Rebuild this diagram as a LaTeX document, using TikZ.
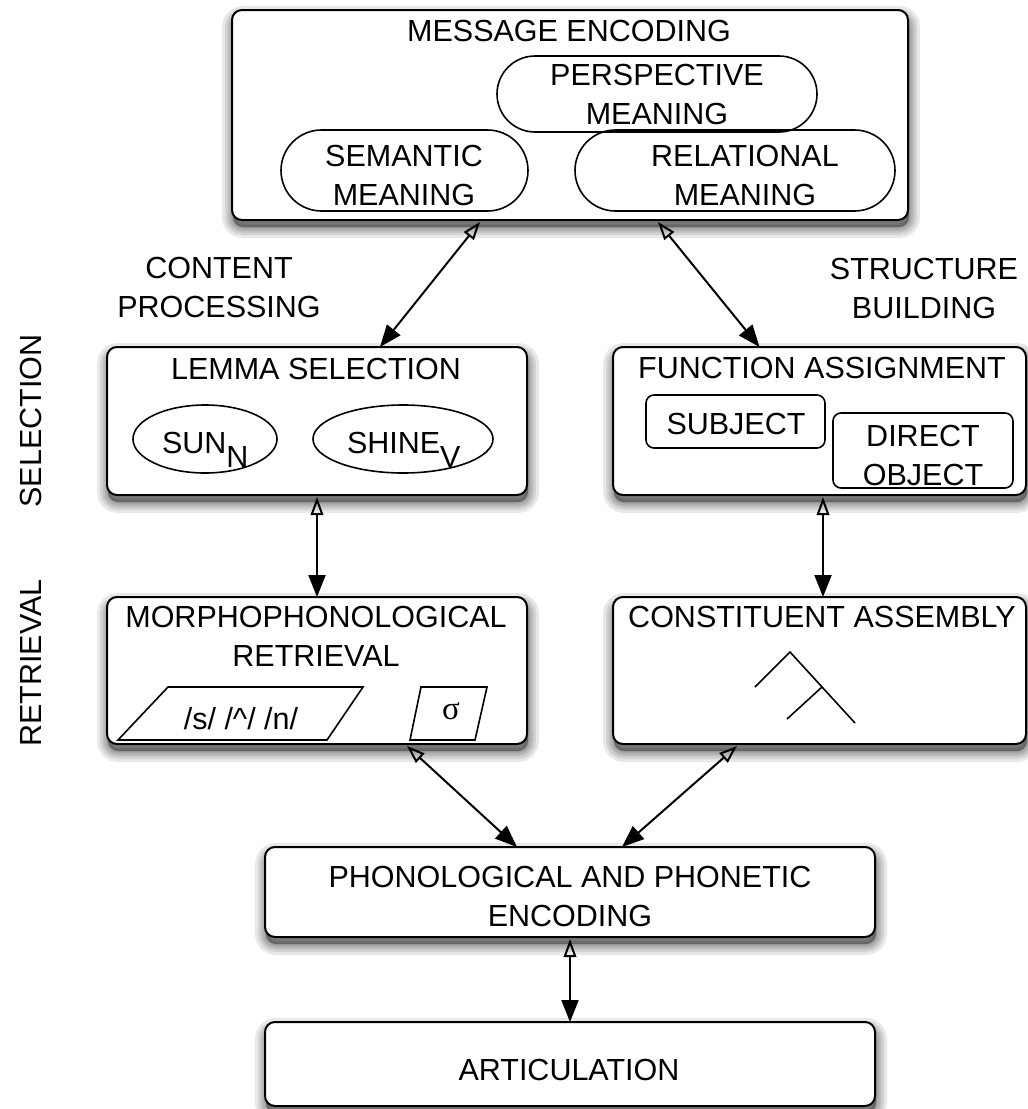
\documentclass[tikz,border=0pt]{standalone}
\usepackage{fontspec}
\setmainfont{Liberation Sans}
\newfontfamily\sigfont{Liberation Serif}
\usetikzlibrary{arrows.meta,shapes.misc,shapes.geometric}
\begin{document}
\begin{tikzpicture}[x=1pt,y=-1pt,
  every node/.style={font=\fontsize{30.5}{39}\selectfont, inner sep=0pt, outer sep=0pt, align=center},
  shadowlayer/.style={preaction={draw=black, fill=black, line width=#1, opacity=0.09,
      transform canvas={xshift=1pt,yshift=-7pt}}},
  box/.style={draw, line width=2pt, rounded corners=10pt, fill=white,
    shadowlayer=22pt, shadowlayer=16pt, shadowlayer=11pt, shadowlayer=7pt, shadowlayer=3pt},
  pill/.style={draw, line width=1.6pt, rounded rectangle},
  oval/.style={draw, line width=1.6pt, ellipse},
  tag/.style={draw, line width=1.6pt, rounded corners=8pt},
  thin/.style={line width=1.6pt},
  link/.style={line width=2pt, {Triangle[open,length=18pt,width=12.5pt]}-{Triangle[length=22pt,width=17pt]}}
]
\useasboundingbox (0,0) rectangle (1028,1109);

% main boxes
\node[box, minimum width=676pt, minimum height=210pt] (msg) at (570,115) {};
\node[box, minimum width=420pt, minimum height=148pt] (lemma) at (317,421) {};
\node[box, minimum width=413pt, minimum height=148pt] (func) at (819.5,421) {};
\node[box, minimum width=420pt, minimum height=147pt] (morph) at (317,670.5) {};
\node[box, minimum width=413pt, minimum height=147pt] (const) at (819.5,670.5) {};
\node[box, minimum width=610pt, minimum height=90pt] (phon) at (570,892) {};
\node[box, minimum width=610pt, minimum height=84pt] (artic) at (570,1064) {};

% message encoding
\node (msgt) at (569,31) {MESSAGE ENCODING};
\node[pill, minimum width=320pt, minimum height=76pt] (persp) at (657,94) {PERSPECTIVE\\MEANING};
\node[pill, minimum width=247pt, minimum height=81pt] (sem) at (404.5,170.5) {};
\node (semt) at (404,175.5) {SEMANTIC\\MEANING};
\node[pill, minimum width=320pt, minimum height=81pt] (rel) at (735,170.5) {};
\node (relt) at (745,175.5) {RELATIONAL\\MEANING};

% lemma selection
\node (lemmat) at (316,368.5) {LEMMA SELECTION};
\node[oval, minimum width=144pt, minimum height=68pt] (sunov) at (205,439) {};
\node[anchor=base west] (sun) at (162,453) {SUN\raisebox{-14pt}{N}};
\node[oval, minimum width=180pt, minimum height=68pt] (shineov) at (403,439) {};
\node[anchor=base west] (shine) at (347,453) {SHINE\raisebox{-14pt}{V}};

% function assignment
\node (funct) at (822,368) {FUNCTION ASSIGNMENT};
\node[tag, minimum width=179pt, minimum height=53pt] (subj) at (735.5,421.5) {};
\node (subjt) at (736,424) {SUBJECT};
\node[tag, minimum width=180pt, minimum height=75pt] (dobj) at (923,450.5) {};
\node (dobjt) at (923,455) {DIRECT\\OBJECT};

% morphophonological retrieval
\node (morpht) at (316,636.5) {MORPHOPHONOLOGICAL\\RETRIEVAL};
\draw[thin] (118,740) -- (168,687) -- (363,687) -- (327,740) -- cycle;
\node[anchor=base] (segs) at (241,729) {/s/ /\textasciicircum/ /n/};
\draw[thin] (421,687) -- (487,687) -- (475,740) -- (410,740) -- cycle;
\node[anchor=base] (sig) at (451,719) {\sigfont\fontsize{33}{33}\selectfont σ};

% constituent assembly
\node (constt) at (822,617) {CONSTITUENT ASSEMBLY};
\draw[thin] (755,687) -- (790,652) -- (855,723);
\draw[thin] (822,687) -- (787,719);

% phonological encoding, articulation
\node (phont) at (570,896.5) {PHONOLOGICAL AND PHONETIC\\ENCODING};
\node (artict) at (569,1070) {ARTICULATION};

% side labels
\node (cp) at (219,287.5) {CONTENT\\PROCESSING};
\node (sb) at (924,288) {STRUCTURE\\BUILDING};
\node[rotate=90] (sel) at (31,421) {SELECTION};
\node[rotate=90] (ret) at (31,663) {RETRIEVAL};

% connectors
\draw[link] ([xshift=-90pt,yshift=-2pt]msg.south) -- ([xshift=63pt]lemma.north);
\draw[link] ([xshift=88pt,yshift=-2pt]msg.south) -- ([xshift=-60pt]func.north);
\draw[link] ([yshift=-2pt]lemma.south) -- (morph.north);
\draw[link] ([xshift=3.5pt,yshift=-2pt]func.south) -- ([xshift=3.5pt]const.north);
\draw[link] ([xshift=90pt,yshift=-2pt]morph.south) -- ([xshift=-53pt]phon.north);
\draw[link] ([xshift=-82.5pt,yshift=-2pt]const.south) -- ([xshift=52pt]phon.north);
\draw[link] ([yshift=-2pt]phon.south) -- (artic.north);
\end{tikzpicture}
\end{document}
